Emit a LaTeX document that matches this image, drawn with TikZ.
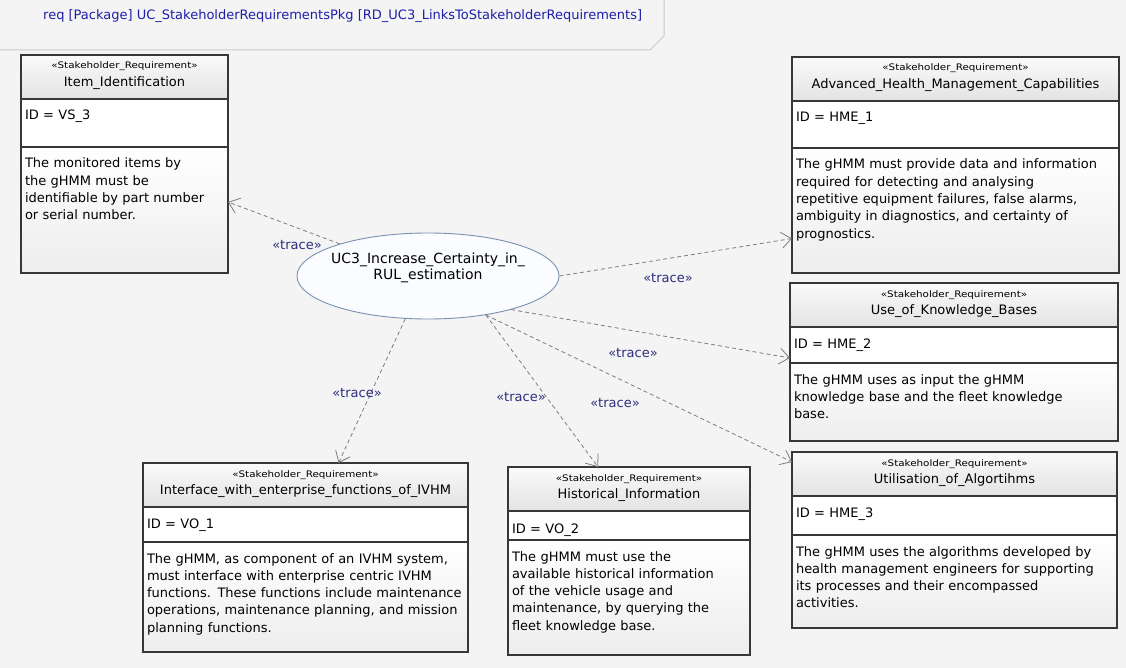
\documentclass[tikz,border=0pt]{standalone}
\usepackage{graphicx}
\usepackage{fontspec}
\setmainfont{DejaVu Sans}
\usetikzlibrary{positioning,shapes.geometric,arrows.meta}

\definecolor{bgcol}{RGB}{244,244,244}
\definecolor{titleblue}{RGB}{30,30,170}
\definecolor{traceblue}{RGB}{45,45,125}
\definecolor{linkgray}{RGB}{125,125,125}
\definecolor{ucedge}{RGB}{120,145,175}
\definecolor{boxedge}{RGB}{55,55,55}
\definecolor{tabline}{RGB}{200,200,200}

\newcommand{\reqstereo}{{\fontsize{9}{10}\selectfont\scalebox{1.15}[1]{«Stakeholder\_Requirement»}}}

\begin{document}
\begin{tikzpicture}[x=1pt,y=-1pt,
  font=\fontsize{13}{17.3}\selectfont,
  reqhead/.style={draw=boxedge, line width=1.1pt, top color=gray!4, bottom color=gray!22,
    inner sep=0pt, outer sep=0pt, text width=#1, align=center, text height=14pt, text depth=30pt},
  reqid/.style={draw=boxedge, line width=1.1pt, fill=white, inner xsep=4pt, inner ysep=0pt,
    outer sep=0pt, text width=#1, align=left, text height=21pt},
  reqdesc/.style={reqid=#1, top color=white, bottom color=gray!14},
  usecase/.style={ellipse, draw=ucedge, line width=0.9pt, fill={rgb,255:red,250;green,252;blue,255},
    minimum width=262pt, minimum height=86pt, inner xsep=-8pt, inner ysep=0pt,
    text width=196pt, align=center, text height=10pt, text depth=36pt,
    font=\fontsize{14}{17}\selectfont},
  tracelink/.style={draw=linkgray, line width=0.8pt, dash pattern=on 4pt off 3pt,
    -{Straight Barb[length=10pt,width=16pt]}},
  tracelbl/.style={text=traceblue, inner sep=0pt}
]
  % Page and frame tab
  \useasboundingbox (0,0) rectangle (1126,668);
  \fill[bgcol] (0,0) rectangle (1126,668);
  \draw[tabline, line width=1pt] (0,50) -- (650,50) -- (664,36) -- (664,0);
  \node[anchor=base west, text=titleblue, inner sep=0pt] (title) at (43,20)
    {req [Package] UC\_StakeholderRequirementsPkg [RD\_UC3\_LinksToStakeholderRequirements]};

  % Use case in the middle
  \node[usecase] (uc) at (428,276) {UC3\_Increase\_Certainty\_in\_\\RUL\_estimation};

  % Item identification (top left)
  \node[reqhead=207pt, anchor=north west] (item) at (21,55) {\reqstereo\\Item\_Identification};
  \node[reqid=199pt, text depth=27pt, below=0pt of item] (itemid) {ID = VS\_3};
  \node[reqdesc=199pt, text depth=105pt, below=0pt of itemid] (itemdesc)
    {The monitored items by\\the gHMM must be\\identifiable by part number\\or serial number.};

  % Advanced health management (top right)
  \node[reqhead=327pt, anchor=north west] (adv) at (792,57) {\reqstereo\\Advanced\_Health\_Management\_Capabilities};
  \node[reqid=319pt, text depth=26pt, below=0pt of adv] (advid) {ID = HME\_1};
  \node[reqdesc=319pt, text depth=104pt, below=0pt of advid] (advdesc)
    {The gHMM must provide data and information\\required for detecting and analysing\\repetitive equipment failures, false alarms,\\ambiguity in diagnostics, and certainty of\\prognostics.};

  % Knowledge bases (middle right)
  \node[reqhead=328pt, anchor=north west] (kb) at (790,283) {\reqstereo\\Use\_of\_Knowledge\_Bases};
  \node[reqid=320pt, text depth=15pt, below=0pt of kb] (kbid) {ID = HME\_2};
  \node[reqdesc=320pt, text depth=57pt, below=0pt of kbid] (kbdesc)
    {The gHMM uses as input the gHMM\\knowledge base and the fleet knowledge\\base.};

  % Algorithms (bottom right)
  \node[reqhead=325pt, anchor=north west] (alg) at (792,452) {\reqstereo\\Utilisation\_of\_Algortihms};
  \node[reqid=317pt, text depth=18pt, below=0pt of alg] (algid) {ID = HME\_3};
  \node[reqdesc=317pt, text depth=72pt, below=0pt of algid] (algdesc)
    {The gHMM uses the algorithms developed by\\health management engineers for supporting\\its processes and their encompassed\\activities.};

  % Enterprise interface (bottom left)
  \node[reqhead=325pt, anchor=north west] (iface) at (143,463) {\reqstereo\\Interface\_with\_enterprise\_functions\_of\_IVHM};
  \node[reqid=317pt, text depth=14pt, below=0pt of iface] (ifaceid) {ID = VO\_1};
  \node[reqdesc=317pt, text depth=89pt, below=0pt of ifaceid] (ifacedesc)
    {The gHMM, as component of an IVHM system,\\must interface with enterprise centric IVHM\\functions. These functions include maintenance\\operations, maintenance planning, and mission\\planning functions.};

  % Historical information (bottom middle)
  \node[reqhead=242pt, anchor=north west] (hist) at (508,467) {\reqstereo\\Historical\_Information};
  \node[reqid=234pt, text height=22pt, text depth=7pt, below=0pt of hist] (histid) {ID = VO\_2};
  \node[reqdesc=234pt, text depth=94pt, below=0pt of histid] (histdesc)
    {The gHMM must use the\\available historical information\\of the vehicle usage and\\maintenance, by querying the\\fleet knowledge base.};

  % Trace links from the use case
  \draw[tracelink] (uc.160) -- ([yshift=8pt]itemdesc.east);
  \draw[tracelink] (uc.east) -- ([yshift=-28pt]advdesc.west);
  \draw[tracelink] (uc.-22) -- ([yshift=-13pt]kbid.west);
  \draw[tracelink] (uc.-34) -- ([yshift=12pt]alg.west);
  \draw[tracelink] (uc.-34) -- ([xshift=-31pt]hist.north);
  \draw[tracelink] (uc.-118) -- ([xshift=33pt]iface.north);

  % Stereotype labels
  \node[tracelbl] (lbitem) at (297,245) {«trace»};
  \node[tracelbl] (lbadv) at (668,278) {«trace»};
  \node[tracelbl] (lbkb) at (633,353) {«trace»};
  \node[tracelbl] (lbalg) at (615,403) {«trace»};
  \node[tracelbl] (lbhist) at (521,397) {«trace»};
  \node[tracelbl] (lbiface) at (357,393) {«trace»};
\end{tikzpicture}
\end{document}
